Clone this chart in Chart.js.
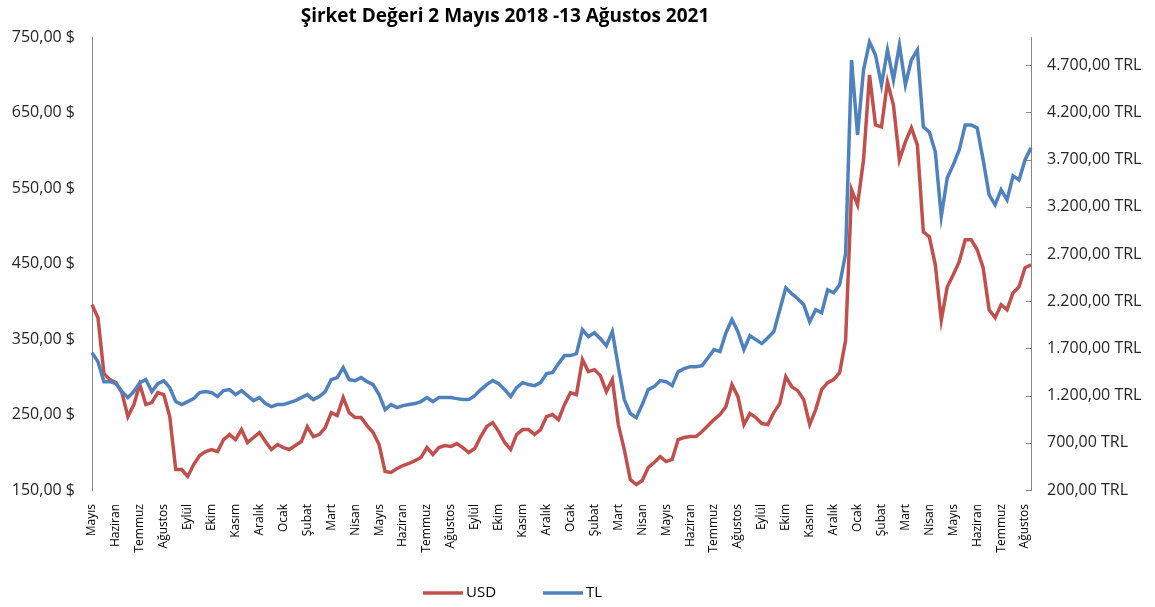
<!DOCTYPE html>
<html>
<head>
<meta charset="utf-8">
<script src="https://cdn.jsdelivr.net/npm/chart.js@4.4.0/dist/chart.umd.min.js"></script>
<style>
  body { margin: 0; background: #fff; }
  #wrap { width: 1155px; height: 607px; position: relative; }
</style>
</head>
<body>
<div id="wrap"><canvas id="myChart"></canvas></div>
<script>
var chartTitle = 'Şirket Değeri 2 Mayıs 2018 -13 Ağustos 2021';

// first label of every month, May 2018 .. Aug 2021
var months = ['Mayıs', 'Haziran', 'Temmuz', 'Ağustos', 'Eylül', 'Ekim', 'Kasım', 'Aralık',
    'Ocak', 'Şubat', 'Mart', 'Nisan', 'Mayıs', 'Haziran', 'Temmuz', 'Ağustos', 'Eylül', 'Ekim', 'Kasım', 'Aralık',
    'Ocak', 'Şubat', 'Mart', 'Nisan', 'Mayıs', 'Haziran', 'Temmuz', 'Ağustos', 'Eylül', 'Ekim', 'Kasım', 'Aralık',
    'Ocak', 'Şubat', 'Mart', 'Nisan', 'Mayıs', 'Haziran', 'Temmuz', 'Ağustos'];

// company value in USD, four readings per month
var usd = [
    395.4, 378.2, 304.1, 296.2,
    292.2, 279.0, 247.2, 263.1,
    289.6, 263.1, 265.8, 279.0,
    276.3, 247.2, 177.1, 177.1,
    167.9, 183.7, 195.6, 200.9,
    203.6, 200.9, 216.8, 223.4,
    216.8, 230.0, 212.8, 219.5,
    226.1, 214.2, 203.6, 210.2,
    206.2, 203.6, 208.9, 214.2,
    234.0, 220.8, 223.4, 232.7,
    252.5, 248.6, 272.4, 252.5,
    245.9, 245.9, 235.3, 226.1,
    210.2, 174.5, 173.2, 178.4,
    182.4, 185.1, 189.0, 193.0,
    206.2, 197.0, 206.2, 208.9,
    207.6, 211.5, 206.2, 199.6,
    204.9, 220.8, 234.0, 239.3,
    227.4, 212.8, 203.6, 223.4,
    230.0, 230.0, 223.4, 230.0,
    247.2, 249.9, 243.3, 263.1,
    279.0, 276.3, 322.7, 306.8,
    309.4, 301.5, 280.3, 296.2,
    236.7, 203.6, 163.9, 157.3,
    162.6, 179.8, 186.4, 194.3,
    187.7, 190.4, 216.8, 219.5,
    220.8, 220.8, 227.4, 235.3,
    243.3, 249.9, 260.5, 289.6,
    273.7, 236.7, 251.2, 245.9,
    238.0, 236.7, 252.5, 264.4,
    300.2, 286.9, 281.6, 269.7,
    236.7, 256.5, 283.0, 292.2,
    296.2, 305.5, 347.8, 547.6,
    527.7, 587.3, 699.7, 633.6,
    630.9, 690.4, 660.0, 587.3,
    611.1, 629.6, 607.1, 492.0,
    485.4, 448.3, 375.0, 419.2,
    435.1, 452.3, 481.4, 481.4,
    468.2, 444.4, 388.8, 378.2,
    395.4, 388.8, 411.3, 419.2,
    444.4, 448.3
];

// company value in TRL, same dates
var tl = [
    1655, 1560, 1348, 1348,
    1327, 1243, 1179, 1243,
    1338, 1370, 1243, 1327,
    1359, 1285, 1137, 1105,
    1137, 1168, 1232, 1243,
    1232, 1190, 1253, 1264,
    1211, 1253, 1200, 1147,
    1179, 1116, 1084, 1105,
    1105, 1126, 1147, 1179,
    1211, 1158, 1190, 1243,
    1370, 1391, 1497, 1370,
    1359, 1391, 1348, 1317,
    1211, 1052, 1105, 1073,
    1094, 1105, 1116, 1137,
    1179, 1137, 1179, 1179,
    1179, 1168, 1158, 1158,
    1200, 1264, 1317, 1359,
    1327, 1264, 1190, 1285,
    1338, 1317, 1306, 1338,
    1433, 1444, 1539, 1624,
    1624, 1645, 1899, 1825,
    1867, 1803, 1729, 1878,
    1507, 1158, 1010, 967,
    1105, 1264, 1295, 1359,
    1348, 1306, 1454, 1486,
    1507, 1507, 1518, 1602,
    1687, 1666, 1867, 2005,
    1878, 1687, 1835, 1793,
    1751, 1814, 1878, 2110,
    2343, 2280, 2227, 2163,
    1983, 2110, 2079, 2322,
    2290, 2375, 2703, 4756,
    3963, 4651, 4947, 4809,
    4492, 4862, 4545, 4915,
    4492, 4756, 4862, 4047,
    3994, 3783, 3100, 3508,
    3645, 3804, 4068, 4068,
    4037, 3698, 3328, 3222,
    3381, 3275, 3529, 3486,
    3698, 3825
];

var usdTicks = [150, 250, 350, 450, 550, 650, 750];
var tlTicks = [200, 700, 1200, 1700, 2200, 2700, 3200, 3700, 4200, 4700];
var seriesNames = ['USD', 'TL'];
var seriesColors = ['#C0504D', '#4F81BD'];

var labels = usd.map(function (v, i) { return i % 4 === 0 ? months[i / 4] : ''; });

function trNum(v) {
    var p = v.toFixed(2).split('.');
    return p[0].replace(/\B(?=(\d{3})+(?!\d))/g, '.') + ',' + p[1];
}

Chart.defaults.font.family = '"Open Sans"';

var extras = {
    id: 'extras',
    afterDraw: function (chart) {
        var ctx = chart.ctx, a = chart.chartArea;
        ctx.save();
        // title
        ctx.font = 'bold 19px "Open Sans"';
        ctx.fillStyle = '#000';
        ctx.textAlign = 'center';
        ctx.textBaseline = 'middle';
        ctx.fillText(chartTitle, 505, 17);
        // tick marks on the right axis point inward
        var y1 = chart.scales.y1;
        ctx.strokeStyle = '#868686';
        ctx.lineWidth = 1;
        y1.ticks.forEach(function (t) {
            var y = Math.round(y1.getPixelForValue(t.value)) + 0.5;
            ctx.beginPath();
            ctx.moveTo(a.right - 5, y);
            ctx.lineTo(a.right, y);
            ctx.stroke();
        });
        // legend
        ctx.font = '15px "Open Sans"';
        ctx.textAlign = 'left';
        seriesNames.forEach(function (name, i) {
            var x0 = 423 + i * 120;
            ctx.strokeStyle = seriesColors[i];
            ctx.lineWidth = 3.5;
            ctx.beginPath();
            ctx.moveTo(x0, 593);
            ctx.lineTo(x0 + 40, 593);
            ctx.stroke();
            ctx.fillStyle = '#000';
            ctx.fillText(name, x0 + 43, 593);
        });
        ctx.restore();
    }
};

var ctx = document.getElementById('myChart').getContext('2d');
var myChart = new Chart(ctx, {
    type: 'line',
    data: {
        labels: labels,
        datasets: [
            {
                label: seriesNames[0],
                data: usd,
                yAxisID: 'y',
                borderColor: seriesColors[0],
                backgroundColor: seriesColors[0],
                borderWidth: 3.5,
                pointRadius: 0,
                order: 2
            },
            {
                label: seriesNames[1],
                data: tl,
                yAxisID: 'y1',
                borderColor: seriesColors[1],
                backgroundColor: seriesColors[1],
                borderWidth: 3.5,
                pointRadius: 0,
                order: 1
            }
        ]
    },
    options: {
        responsive: true,
        maintainAspectRatio: false,
        animation: false,
        layout: { padding: { top: 37, left: 0, right: 0, bottom: 0 } },
        plugins: {
            legend: { display: false },
            title: { display: false },
            tooltip: { enabled: false }
        },
        scales: {
            x: {
                grid: { display: false },
                border: { display: false },
                ticks: {
                    autoSkip: false,
                    minRotation: 90,
                    maxRotation: 90,
                    padding: 6,
                    color: '#000',
                    font: { size: 12 }
                },
                afterFit: function (s) { s.height = 117; }
            },
            y: {
                position: 'left',
                min: 150,
                max: 750,
                grid: { display: true, drawOnChartArea: false, drawTicks: false },
                border: { color: '#868686' },
                afterBuildTicks: function (s) {
                    s.ticks = usdTicks.map(function (v) { return { value: v }; });
                },
                ticks: {
                    padding: 17,
                    color: '#262626',
                    font: { size: 16 },
                    callback: function (v) { return trNum(v) + ' $'; }
                },
                afterFit: function (s) { s.width = 92; }
            },
            y1: {
                position: 'right',
                min: 200,
                max: 5000,
                grid: { display: true, drawOnChartArea: false, drawTicks: false },
                border: { color: '#868686' },
                afterBuildTicks: function (s) {
                    s.ticks = tlTicks.map(function (v) { return { value: v }; });
                },
                ticks: {
                    padding: 16,
                    color: '#262626',
                    font: { size: 16 },
                    callback: function (v) { return trNum(v) + ' TRL'; }
                },
                afterFit: function (s) { s.width = 124; }
            }
        }
    },
    plugins: [extras]
});
</script>
</body>
</html>
